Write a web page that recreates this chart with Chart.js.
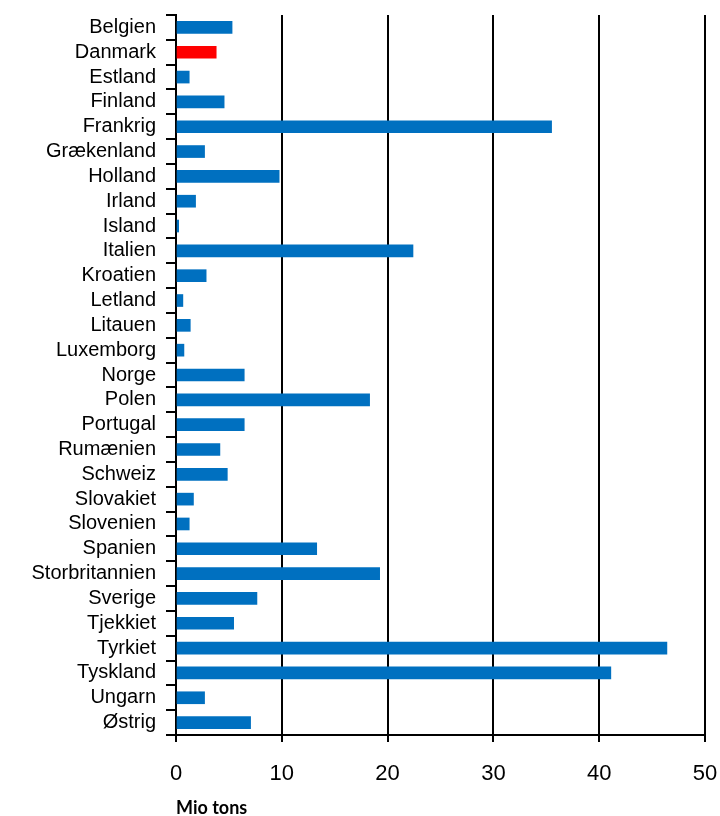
<!DOCTYPE html>
<html>
<head>
<meta charset="utf-8">
<script src="https://cdn.jsdelivr.net/npm/chart.js@4"></script>
<style>
  html, body { margin: 0; padding: 0; background: #fff; }
  #wrap { width: 720px; height: 816px; }
</style>
</head>
<body>
<div id="wrap"><canvas id="chart" width="720" height="816"></canvas></div>
<script>
const countries = ['Belgien', 'Danmark', 'Estland', 'Finland', 'Frankrig', 'Grækenland', 'Holland', 'Irland',
    'Island', 'Italien', 'Kroatien', 'Letland', 'Litauen', 'Luxemborg', 'Norge', 'Polen', 'Portugal',
    'Rumænien', 'Schweiz', 'Slovakiet', 'Slovenien', 'Spanien', 'Storbritannien', 'Sverige', 'Tjekkiet',
    'Tyrkiet', 'Tyskland', 'Ungarn', 'Østrig'];
const tons = [5.3, 3.8, 1.25, 4.55, 35.5, 2.7, 9.75, 1.85, 0.25, 22.4, 2.85, 0.65, 1.35, 0.75, 6.45, 18.3, 6.45,
    4.15, 4.85, 1.65, 1.25, 13.3, 19.25, 7.65, 5.45, 46.4, 41.1, 2.7, 7.05];
const xTicks = [0, 10, 20, 30, 40, 50];
const highlight = 'Danmark';

const ctx = document.getElementById('chart').getContext('2d');

new Chart(ctx, {
    type: 'bar',
    data: {
        labels: countries,
        datasets: [{
            data: tons,
            backgroundColor: countries.map(c => c === highlight ? '#FF0000' : '#0070C0'),
            barThickness: 12,
            borderWidth: 0
        }]
    },
    options: {
        indexAxis: 'y',
        responsive: false,
        animation: false,
        layout: { padding: { top: 15, right: 15, left: 0, bottom: 0 } },
        plugins: {
            legend: { display: false },
            tooltip: { enabled: false }
        },
        scales: {
            x: {
                min: 0,
                max: 50,
                afterBuildTicks: (scale) => { scale.ticks = xTicks.map(v => ({ value: v })); },
                // fixed axis band height; keep label padding from pushing the plot edge in
                afterFit: (scale) => {
                    scale.height = 81;
                    scale.paddingRight = 0;
                    scale.paddingLeft = 0;
                },
                grid: {
                    color: '#000',
                    lineWidth: 2,
                    tickLength: 7,
                    tickColor: '#000'
                },
                border: { color: '#000', width: 2 },
                ticks: {
                    color: '#000',
                    padding: 19,
                    font: { family: "'Liberation Sans', Arial, sans-serif", size: 22 }
                },
                title: {
                    display: true,
                    text: 'Mio tons',
                    align: 'start',
                    color: '#000',
                    padding: { top: 0, bottom: -3 },
                    font: { family: "Lato, 'Noto Sans', sans-serif", size: 18, weight: 'bold' }
                }
            },
            y: {
                afterFit: (scale) => {
                    scale.width = 176;
                    scale.paddingTop = 0;
                    scale.paddingBottom = 0;
                },
                grid: {
                    offset: true,
                    drawOnChartArea: false,
                    color: '#000',
                    lineWidth: 2,
                    tickLength: 10
                },
                border: { color: '#000', width: 2 },
                ticks: {
                    color: '#000',
                    padding: 10,
                    autoSkip: false,
                    font: { family: "'Liberation Sans', Arial, sans-serif", size: 20 }
                }
            }
        }
    }
});
</script>
</body>
</html>
